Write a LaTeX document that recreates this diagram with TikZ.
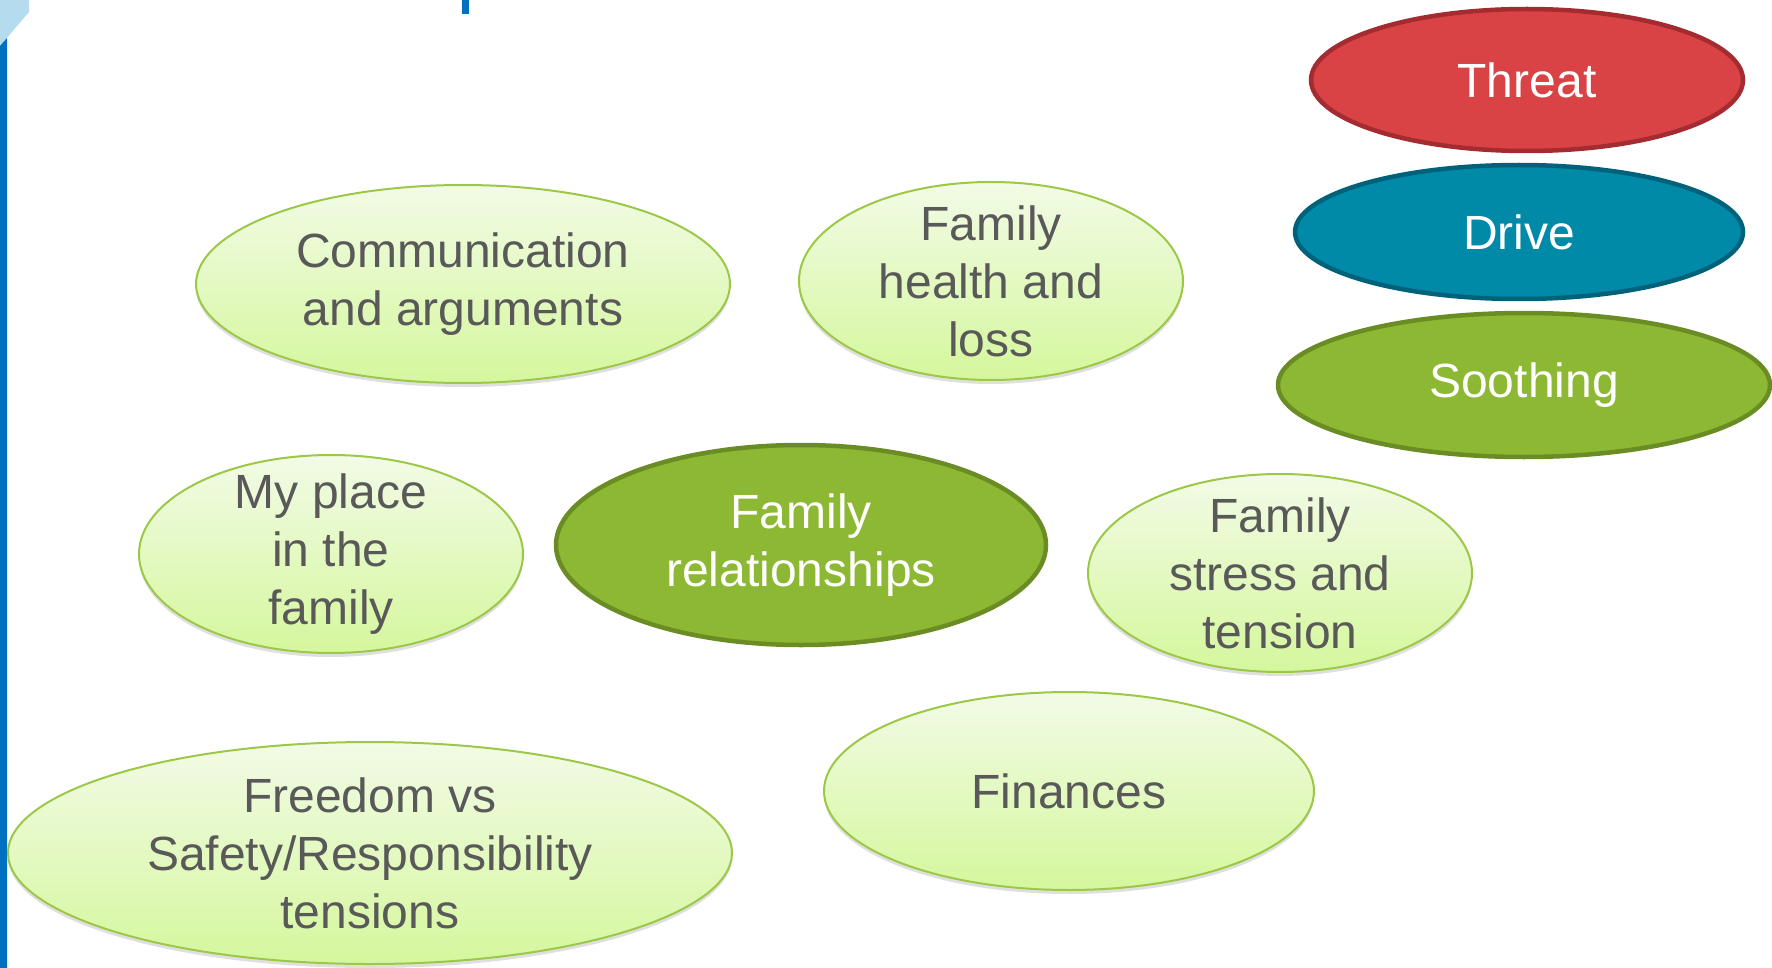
\documentclass[tikz,border=0pt]{standalone}
\usepackage{fontspec}
\setmainfont{Liberation Sans}
\usetikzlibrary{shapes.geometric,shadows}

\definecolor{barblue}{HTML}{0070C0}
\definecolor{cornerblue}{HTML}{B4DCEE}
\definecolor{topicline}{HTML}{9CC847}
\definecolor{topictop}{HTML}{F2FBE6}
\definecolor{topicbottom}{HTML}{D5F79D}
\definecolor{topictext}{HTML}{595959}
\definecolor{soothfill}{HTML}{8DB833}
\definecolor{soothline}{HTML}{6A8C24}
\definecolor{threatfill}{HTML}{D94345}
\definecolor{threatline}{HTML}{A42B2F}
\definecolor{drivefill}{HTML}{008AA8}
\definecolor{driveline}{HTML}{00617A}

\begin{document}
\begin{tikzpicture}[%
      x=1pt, y=-1pt,
      every node/.style={font=\fontsize{48}{58}\selectfont, align=center, inner sep=-20pt},
      topic/.style={ellipse, draw=topicline, line width=2pt,
        top color=topictop, bottom color=topicbottom, text=topictext,
        drop shadow={shadow xshift=0pt, shadow yshift=-4pt, opacity=0.25}},
      system/.style={ellipse, line width=4.5pt, text=white},
      ]
      \useasboundingbox (0,0) rectangle (1772,968);

      % slide edge
      \fill [color=cornerblue] (0,0) -- (29,0) -- (29,12) -- (0,46) -- cycle;
      \fill [color=barblue] (0,46) -- (7,38) -- (7,968) -- (0,968) -- cycle;
      \fill [color=barblue] (462,0) rectangle (469,14);

      % the three systems
      \node [system, fill=threatfill, draw=threatline,
        minimum width=432, minimum height=142] (threat) at (1527,80) {Threat};
      \node [system, fill=drivefill, draw=driveline,
        minimum width=448, minimum height=134] (drive) at (1519,232) {Drive};
      \node [system, fill=soothfill, draw=soothline,
        minimum width=492, minimum height=144] (soothing) at (1524,385) {Soothing};

      % topics
      \node [topic, minimum width=534, minimum height=198] (comm) at (463,284)
        {Communication\\and arguments};
      \node [topic, minimum width=384, minimum height=198] (health) at (991,281)
        {Family\\health and\\loss};
      \node [topic, minimum width=384, minimum height=198] (place) at (331,554)
        {My place\\in the\\family};
      \node [system, fill=soothfill, draw=soothline,
        minimum width=490, minimum height=200] (relations) at (801,545)
        {Family\\relationships};
      \node [topic, minimum width=384, minimum height=198] (stress) at (1280,573)
        {Family\\stress and\\tension};
      \node [topic, minimum width=490, minimum height=198] (finances) at (1069,791)
        {Finances};
      \node [topic, minimum width=724, minimum height=222] (freedom) at (370,853)
        {Freedom vs\\Safety/Responsibility\\tensions};
\end{tikzpicture}
\end{document}
